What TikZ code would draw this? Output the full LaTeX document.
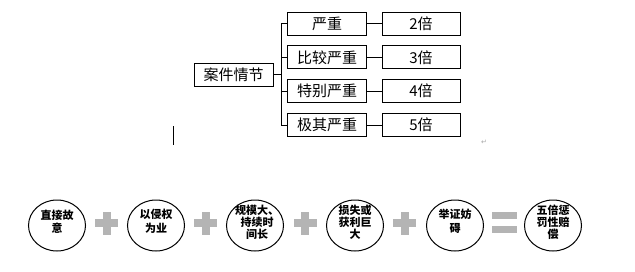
\documentclass[tikz,border=0pt]{standalone}
\usepackage{fontspec}
\newfontfamily\cjk{Noto Sans CJK SC}
\newfontfamily\dv{DejaVu Sans}
\definecolor{plusgray}{HTML}{B4B4B4}
\tikzset{
  box/.style={draw, line width=0.8pt, minimum width=79pt, minimum height=23pt, inner sep=0pt,
    font=\cjk\fontsize{15}{18}\selectfont},
  circtext/.style={inner sep=0pt, align=center, font=\cjk\bfseries\fontsize{11}{13.5}\selectfont},
  circtextiii/.style={circtext, font=\cjk\bfseries\fontsize{11}{12}\selectfont},
  ring/.style={line width=1pt},
  conn/.style={line width=0.8pt},
  plusbar/.style={fill=plusgray}
}
\begin{document}
\begin{tikzpicture}[x=1pt,y=-1pt]
\useasboundingbox (0,0) rectangle (635,271);
% top tree
\node[box] (main) at (233.5,74.5) {案件情节};
\node[box] (a1) at (327,23.5) {严重};
\node[box] (a2) at (327,57.3) {比较严重};
\node[box] (a3) at (327,91.1) {特别严重};
\node[box] (a4) at (327,124.9) {极其严重};
\node[box, minimum width=78pt] (b1) at (421,23.5) {2倍};
\node[box, minimum width=78pt] (b2) at (421,57.3) {3倍};
\node[box, minimum width=78pt] (b3) at (421,91.1) {4倍};
\node[box, minimum width=78pt] (b4) at (421,124.9) {5倍};
\coordinate (trunk) at (281,74.5);
\draw[conn] (main.east) -- (trunk);
\foreach \i in {1,2,3,4}{
  \draw[conn] (trunk) |- (a\i.west);
  \draw[conn] (a\i.east) -- (b\i.west);
}
% cursor and return mark
\draw[line width=1pt] (173.5,126) -- (173.5,145);
\node[text=gray!70, font=\dv\fontsize{7}{8}\selectfont, inner sep=0pt] (ret) at (484,142) {↵};
% bottom row: rings
\foreach \n/\x in {r1/57,r2/156,r3/255,r4/355,r5/455,r6/553}{
  \coordinate (\n) at (\x,225.5);
  \draw[ring] (\n) ellipse [x radius=28.5, y radius=25.5];
}
\node[circtext] (c1) at (57,221.5) {直接故\\意};
\node[circtext] (c2) at (156,221.5) {以侵权\\为业};
\node[circtextiii] (c3) at (257,222) {规模大、\\持续时\\间长};
\node[circtextiii] (c4) at (355,222) {损失或\\获利巨\\大};
\node[circtext] (c5) at (455,221.5) {举证妨\\碍};
\node[circtextiii] (c6) at (553,222) {五倍惩\\罚性赔\\偿};
\foreach \x in {106.5,205.5,305,404.5}{
  \fill[plusbar] (\x-11.5,219) rectangle (\x+11.5,227);
  \fill[plusbar] (\x-4,211.5) rectangle (\x+4,234.5);
}
\fill[plusbar] (491.5,212) rectangle (516.5,219);
\fill[plusbar] (491.5,226) rectangle (516.5,233);
\end{tikzpicture}
\end{document}
